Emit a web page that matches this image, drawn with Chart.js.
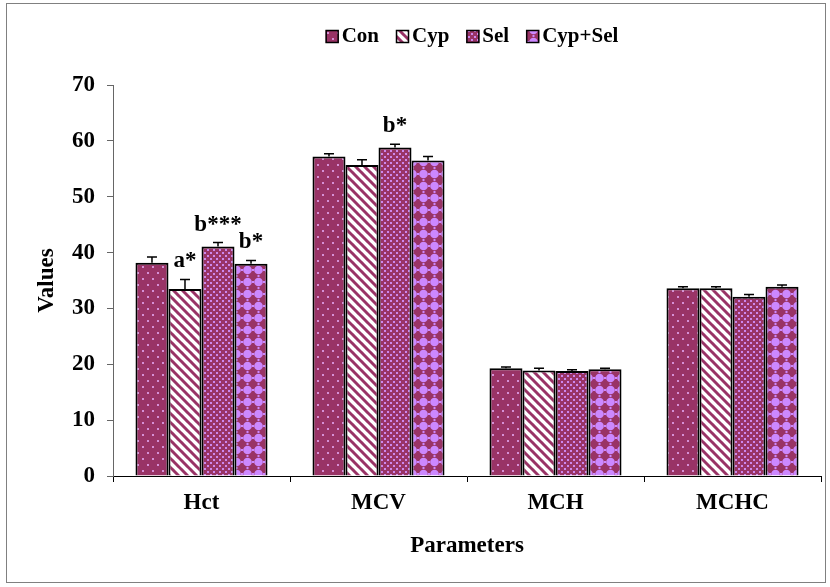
<!DOCTYPE html>
<html>
<head>
<meta charset="utf-8">
<script src="https://cdn.jsdelivr.net/npm/chart.js@4.4.1/dist/chart.umd.min.js"></script>
<style>
  html, body { margin: 0; padding: 0; background: #fff; }
  canvas { display: block; }
</style>
</head>
<body>
<canvas id="chart" width="830" height="587"></canvas>
<script>
// Haematological parameters per treatment group
const categories = ['Hct', 'MCV', 'MCH', 'MCHC'];
const seriesNames = ['Con', 'Cyp', 'Sel', 'Cyp+Sel'];
const conValues    = [38.2, 57.2, 19.3, 33.6];
const cypValues    = [33.5, 55.7, 18.9, 33.6];
const selValues    = [41.1, 58.8, 18.8, 32.1];
const cypSelValues = [38.0, 56.5, 19.1, 33.9];
// standard errors (drawn upward only)
const conErrors    = [1.0, 0.5, 0.2, 0.3];
const cypErrors    = [1.7, 0.9, 0.4, 0.3];
const selErrors    = [0.7, 0.6, 0.2, 0.4];
const cypSelErrors = [0.6, 0.7, 0.2, 0.3];
const yTickValues  = [0, 10, 20, 30, 40, 50, 60, 70];
// significance marks: series index, category index, text
const marks = [
  [1, 0, 'a*'],
  [2, 0, 'b***'],
  [3, 0, 'b*'],
  [2, 1, 'b*']
];

const FONT = 'Liberation Serif, Times New Roman, serif';
const MAGENTA = '#993366';

function makePattern(w, h, paint) {
  const c = document.createElement('canvas');
  c.width = w; c.height = h;
  const g = c.getContext('2d');
  paint(g, w, h);
  return g.createPattern(c, 'repeat');
}

// Con: magenta with sparse light dots
const patCon = makePattern(10, 12, (g, w, h) => {
  g.fillStyle = MAGENTA; g.fillRect(0, 0, w, h);
  g.fillStyle = '#d690d6';
  g.fillRect(2, 2, 2, 2);
  g.fillRect(7, 8, 2, 2);
});
// Cyp: white with diagonal magenta stripes
const patCyp = makePattern(9, 9, (g, w, h) => {
  g.fillStyle = '#fff'; g.fillRect(0, 0, w, h);
  g.strokeStyle = MAGENTA; g.lineWidth = 3;
  for (const o of [-w, 0, w]) {
    g.beginPath(); g.moveTo(o - 1, -1); g.lineTo(o + w + 1, h + 1); g.stroke();
  }
});
// Sel: magenta with dense lavender squares
const patSel = makePattern(6, 6, (g, w, h) => {
  g.fillStyle = MAGENTA; g.fillRect(0, 0, w, h);
  g.fillStyle = '#cc88ee';
  g.fillRect(0, 0, 2, 2);
  g.fillRect(3, 3, 2, 2);
});
// Cyp+Sel: magenta with lavender rounded blobs
const patCypSel = makePattern(11, 12, (g, w, h) => {
  g.fillStyle = MAGENTA; g.fillRect(0, 0, w, h);
  g.fillStyle = '#cc88ff';
  g.beginPath(); g.arc(5.5, 6, 4.3, 0, Math.PI * 2); g.fill();
  g.fillRect(4.5, 0, 2, 1); g.fillRect(4.5, 11, 2, 1);
  g.fillRect(0, 5, 1, 2); g.fillRect(10, 5, 1, 2);
});

const seriesValues = [conValues, cypValues, selValues, cypSelValues];
const seriesErrors = [conErrors, cypErrors, selErrors, cypSelErrors];
const patterns = [patCon, patCyp, patSel, patCypSel];

const decorations = {
  id: 'decorations',
  afterDatasetsDraw(chart) {
    const { ctx, scales: { y } } = chart;
    ctx.save();
    // error bars
    ctx.strokeStyle = '#000';
    ctx.lineWidth = 1.5;
    seriesErrors.forEach((errs, di) => {
      const meta = chart.getDatasetMeta(di);
      errs.forEach((e, i) => {
        const bar = meta.data[i];
        const yTop = y.getPixelForValue(seriesValues[di][i] + e);
        const yBase = y.getPixelForValue(seriesValues[di][i]);
        ctx.beginPath();
        ctx.moveTo(bar.x, yBase); ctx.lineTo(bar.x, yTop);
        ctx.moveTo(bar.x - 5, yTop); ctx.lineTo(bar.x + 5, yTop);
        ctx.stroke();
      });
    });
    // significance marks
    ctx.fillStyle = '#000';
    ctx.font = 'bold 23px ' + FONT;
    ctx.textAlign = 'center';
    ctx.textBaseline = 'alphabetic';
    marks.forEach(([di, ci, txt]) => {
      const bar = chart.getDatasetMeta(di).data[ci];
      const yTop = y.getPixelForValue(seriesValues[di][ci] + seriesErrors[di][ci]);
      ctx.fillText(txt, bar.x, yTop - 12);
    });
    ctx.restore();
  },
  afterDraw(chart) {
    const { ctx, chartArea } = chart;
    ctx.save();
    // legend row
    ctx.font = 'bold 21px ' + FONT;
    const box = 13, gapText = 3, gapItem = 17;
    const widths = seriesNames.map(n => box + gapText + ctx.measureText(n).width);
    const total = widths.reduce((a, b) => a + b, 0) + gapItem * (seriesNames.length - 1);
    let x = (chartArea.left + chartArea.right) / 2 + 5 - total / 2;
    const boxTop = 30;
    ctx.textBaseline = 'alphabetic';
    ctx.textAlign = 'left';
    seriesNames.forEach((n, i) => {
      ctx.fillStyle = patterns[i];
      ctx.fillRect(x, boxTop, box, box);
      ctx.strokeStyle = '#000'; ctx.lineWidth = 1.5;
      ctx.strokeRect(x + 0.5, boxTop + 0.5, box - 1, box - 1);
      ctx.fillStyle = '#000';
      ctx.fillText(n, x + box + gapText, boxTop + 12);
      x += widths[i] + gapItem;
    });
    // frame
    ctx.strokeStyle = '#808080';
    ctx.lineWidth = 1;
    ctx.strokeRect(6.5, 3.5, 819, 579);
    ctx.restore();
  }
};

new Chart(document.getElementById('chart'), {
  type: 'bar',
  data: {
    labels: categories,
    datasets: seriesNames.map((name, i) => ({
      label: name,
      data: seriesValues[i],
      backgroundColor: patterns[i],
      borderColor: '#000',
      borderWidth: 2,
      categoryPercentage: 0.746,
      barPercentage: 1.0
    }))
  },
  options: {
    responsive: false,
    animation: false,
    devicePixelRatio: 1,
    layout: { padding: { top: 85, right: 9, bottom: 0, left: 0 } },
    plugins: { legend: { display: false }, tooltip: { enabled: false } },
    scales: {
      x: {
        offset: true,
        grid: { offset: true, drawOnChartArea: false, drawTicks: true, tickLength: 6, color: '#000' },
        border: { color: '#000', width: 1 },
        ticks: { font: { family: FONT, size: 23, weight: 'bold' }, color: '#000', padding: 7, maxRotation: 0 },
        title: { display: true, text: 'Parameters', color: '#000',
                 font: { family: FONT, size: 23, weight: 'bold' }, padding: { top: 0, bottom: 27 } },
        afterFit(s) { s.height = 111; }
      },
      y: {
        min: 0, max: 70,
        afterBuildTicks(s) { s.ticks = yTickValues.map(v => ({ value: v })); },
        grid: { drawOnChartArea: false, drawTicks: true, tickLength: 6, color: '#666' },
        border: { color: '#666', width: 1 },
        ticks: { font: { family: FONT, size: 23, weight: 'bold' }, color: '#000', padding: 12 },
        title: { display: true, text: 'Values', color: '#000',
                 font: { family: FONT, size: 23, weight: 'bold' }, padding: { top: 33, bottom: 0 } },
        afterFit(s) { s.width = 113; }
      }
    }
  },
  plugins: [decorations]
});
</script>
</body>
</html>
